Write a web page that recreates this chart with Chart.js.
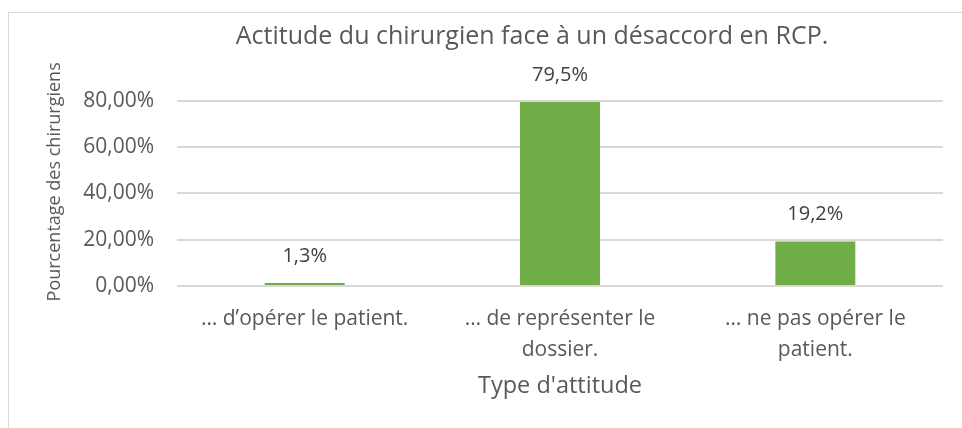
<!DOCTYPE html>
<html>
<head>
<meta charset="utf-8">
<script src="https://cdn.jsdelivr.net/npm/chart.js@4"></script>
<style>
  html, body { margin: 0; padding: 0; background: #fff; overflow: hidden; width: 962px; height: 428px; }
  #box { position: absolute; left: 8px; top: 12px; width: 1046px; height: 430px; border: 1px solid #d9d9d9; }
</style>
</head>
<body>
<div id="box"><canvas id="chart" width="1046" height="430"></canvas></div>
<script>
// chart data
const categories = [
    ['\u2026 d\u2019op\u00e9rer le patient.'],
    ['\u2026 de repr\u00e9senter le', 'dossier.'],
    ['\u2026 ne pas op\u00e9rer le', 'patient.']
];
const percentValues = [1.3, 79.5, 19.2];
const valueLabels = ['1,3%', '79,5%', '19,2%'];

const textColor = '#595959';
const fontFamily = '"Open Sans", "Liberation Sans", sans-serif';

// Draw the value above each bar
const barLabels = {
    id: 'barLabels',
    afterDatasetsDraw(chart) {
        const ctx = chart.ctx;
        const meta = chart.getDatasetMeta(0);
        ctx.save();
        ctx.font = '20px ' + fontFamily;
        ctx.fillStyle = '#404040';
        ctx.textAlign = 'center';
        ctx.textBaseline = 'middle';
        meta.data.forEach((bar, i) => {
            ctx.fillText(valueLabels[i], bar.x, bar.y - 27);
        });
        ctx.restore();
    }
};

new Chart(document.getElementById('chart'), {
    type: 'bar',
    data: {
        labels: categories,
        datasets: [{
            data: percentValues,
            backgroundColor: '#70ad47',
            barPercentage: 0.313,
            categoryPercentage: 1
        }]
    },
    options: {
        responsive: false,
        animation: false,
        events: [],
        layout: { padding: { left: 0, right: 0, top: 0, bottom: 37 } },
        plugins: {
            legend: { display: false },
            tooltip: { enabled: false },
            title: {
                display: true,
                text: 'Actitude du chirurgien face \u00e0 un d\u00e9saccord en RCP.',
                color: textColor,
                font: { family: fontFamily, size: 25, weight: 'normal' },
                padding: { top: 9, bottom: 25.7 }
            }
        },
        scales: {
            x: {
                grid: { display: false },
                border: { display: false },
                ticks: {
                    color: textColor,
                    font: { family: fontFamily, size: 21, lineHeight: 1.5 },
                    padding: 9,
                    maxRotation: 0,
                    autoSkip: false
                },
                title: {
                    display: true,
                    text: "Type d'attitude",
                    color: textColor,
                    font: { family: fontFamily, size: 23.5 },
                    padding: { top: 0, bottom: 6 }
                },
                afterFit(scale) { scale.height = 120; }
            },
            y: {
                min: 0,
                max: 90,
                grid: { color: '#d9d9d9', lineWidth: 2, drawTicks: false },
                border: { display: false },
                ticks: {
                    stepSize: 20,
                    includeBounds: false,
                    color: textColor,
                    padding: 23,
                    font: { family: fontFamily, size: 21 },
                    callback: v => v.toFixed(2).replace('.', ',') + '%'
                },
                title: {
                    display: true,
                    text: 'Pourcentage des chirurgiens',
                    color: textColor,
                    font: { family: fontFamily, size: 18 },
                    padding: { top: 35, bottom: 0 }
                },
                afterFit(scale) { scale.width = 168; }
            },
            // empty space on the right, the chart is cut off by the window
            spacer: {
                type: 'linear',
                position: 'right',
                grid: { display: false },
                border: { display: false },
                ticks: { display: false },
                afterFit(scale) { scale.width = 112; }
            }
        }
    },
    plugins: [barLabels]
});
</script>
</body>
</html>
